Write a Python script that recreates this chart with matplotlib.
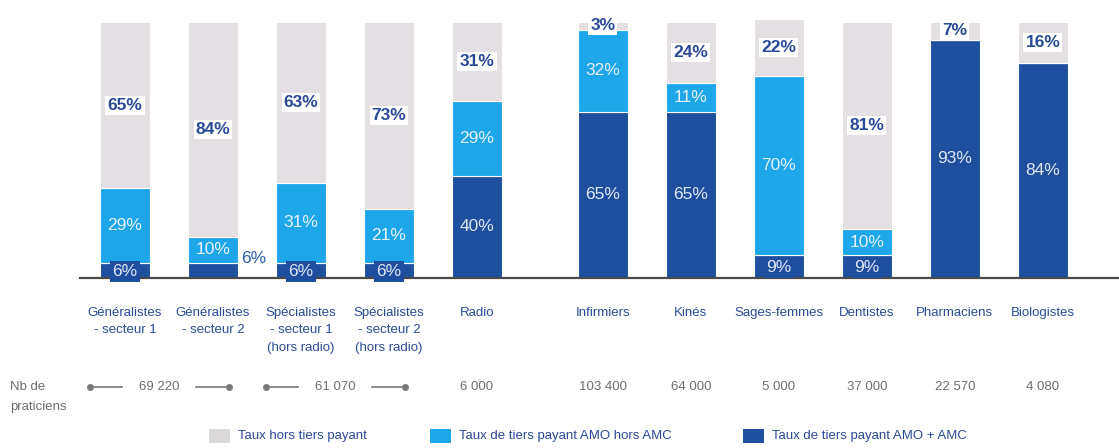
import matplotlib
matplotlib.use("Agg")
import matplotlib.pyplot as plt
import matplotlib.transforms as mtransforms
from matplotlib.patches import Rectangle
import numpy as np

plt.rcParams["font.family"] = ["Liberation Sans Narrow", "DejaVu Sans Condensed",
                               "Liberation Sans", "DejaVu Sans"]

# ---------------------------------------------------------------------
# data
# ---------------------------------------------------------------------
categories = [
    "Généralistes\n- secteur 1",
    "Généralistes\n- secteur 2",
    "Spécialistes\n- secteur 1\n(hors radio)",
    "Spécialistes\n- secteur 2\n(hors radio)",
    "Radio",
    "Infirmiers",
    "Kinés",
    "Sages-femmes",
    "Dentistes",
    "Pharmaciens",
    "Biologistes",
]
amo_amc = [6, 6, 6, 6, 40, 65, 65, 9, 9, 93, 84]        # dark blue
amo_hors_amc = [29, 10, 31, 21, 29, 32, 11, 70, 10, 0, 0]  # light blue
hors_tp = [65, 84, 63, 73, 31, 3, 24, 22, 81, 7, 16]     # grey

# number of practitioners: grouped (first two pairs) then single values
group_counts = [("69 220", 0, 1), ("61 070", 2, 3)]
single_counts = ["6 000", "103 400", "64 000", "5 000", "37 000", "22 570", "4 080"]

legend_labels = ["Taux hors tiers payant",
                 "Taux de tiers payant AMO hors AMC",
                 "Taux de tiers payant AMO + AMC"]

COL_GREY = "#e4dfe2"
COL_LIGHT = "#1ea6ea"
COL_DARK = "#1e4f9f"
COL_TXT = "#2a4a98"
COL_NUM = "#6e6e6e"

# x layout: a wider gap between the physicians block and the rest
x = np.arange(len(categories), dtype=float)
x[5:] += 0.43
width = 0.57

fig = plt.figure(figsize=(11.19, 4.48), dpi=100)
# axes: 0..100% spans pixels 278 -> 22 ; x pos p -> pixel 125 + 88 p
ax = fig.add_axes([0, (448 - 278) / 448, 1, 256 / 448])
ax.set_xlim(-125 / 88, (1119 - 125) / 88)
ax.set_ylim(0, 100)
ax.axis("off")

dark = np.array(amo_amc)
light = np.array(amo_hors_amc)
grey = np.array(hors_tp)

ax.bar(x, dark, width, color=COL_DARK, edgecolor="white", linewidth=0.8, clip_on=False)
ax.bar(x, light, width, bottom=dark, color=COL_LIGHT, edgecolor="white", linewidth=0.8,
       clip_on=False)
ax.bar(x, grey, width, bottom=dark + light, color=COL_GREY, edgecolor="white", linewidth=0.8,
       clip_on=False)

ax.plot([(80 - 125) / 88, (1119 - 125) / 88], [0, 0], color="#4a4a4a", lw=1.6,
        clip_on=False, zorder=1)

PCT = 12.5
# segment labels
for i in range(len(x)):
    d, l, g = dark[i], light[i], grey[i]
    ax.text(x[i], d + l + g / 2, f"{g}%", ha="center", va="center", fontsize=PCT,
            weight="bold", color=COL_TXT, zorder=5, clip_on=False,
            bbox=dict(boxstyle="square,pad=0.12", fc="white", ec="none"))
    if l > 0:
        ax.text(x[i], d + l / 2, f"{l}%", ha="center", va="center", fontsize=PCT,
                color="#e4f2fb", zorder=5)
    if i == 1:
        ax.text(x[i] + 0.46, d + 1.5, f"{d}%", ha="center", va="center", fontsize=PCT,
                color="#2a5cb0", zorder=5)
    elif d <= 10:
        ax.text(x[i], d / 2 - 0.5, f"{d}%", ha="center", va="center", fontsize=PCT,
                color="#dfe7f3", zorder=5,
                bbox=dict(boxstyle="square,pad=0.15", fc=COL_DARK, ec="none"))
    else:
        ax.text(x[i], d / 2, f"{d}%", ha="center", va="center", fontsize=PCT,
                color="#dfe7f3", zorder=5)

# category labels and practitioner counts below the axis
tr = mtransforms.blended_transform_factory(ax.transData, fig.transFigure)


def fy(py):
    return (448 - py) / 448


FS = 9.5
for xi, lab in zip(x, categories):
    ax.text(xi, fy(307), lab, transform=tr, ha="center", va="top", fontsize=FS,
            color=COL_TXT, linespacing=1.6)

fig.text(10 / 1119, fy(387), "Nb de", ha="left", va="center", fontsize=FS, color=COL_NUM)
fig.text(10 / 1119, fy(407), "praticiens", ha="left", va="center", fontsize=FS,
         color=COL_NUM)

for lab, i, j in group_counts:
    left, right = x[i] - 0.4, x[j] + 0.18
    mid = (left + right) / 2
    ax.text(mid, fy(387), lab, transform=tr, ha="center", va="center", fontsize=FS,
            color=COL_NUM)
    for a, b in [(left, mid - 0.42), (mid + 0.42, right)]:
        ax.plot([a, b], [fy(387), fy(387)], transform=tr, color="#7a7a7a", lw=1.2,
                clip_on=False)
    ax.plot([left, right], [fy(387), fy(387)], transform=tr, ls="none", marker="o",
            ms=4, color="#7a7a7a", clip_on=False)

for xi, lab in zip(x[4:], single_counts):
    ax.text(xi, fy(387), lab, transform=tr, ha="center", va="center", fontsize=FS,
            color=COL_NUM)

# legend
leg_colors = ["#dcd9db", COL_LIGHT, COL_DARK]
leg_x = [209, 430, 743]
for px, c, lab in zip(leg_x, leg_colors, legend_labels):
    fig.patches.append(Rectangle((px / 1119, fy(443)), 21 / 1119, 14 / 448,
                                 transform=fig.transFigure, fc=c, ec="none"))
    fig.text((px + 29) / 1119, fy(436), lab, ha="left", va="center", fontsize=FS,
             color=COL_TXT)

fig.savefig("out.png", dpi=100, facecolor="white")
